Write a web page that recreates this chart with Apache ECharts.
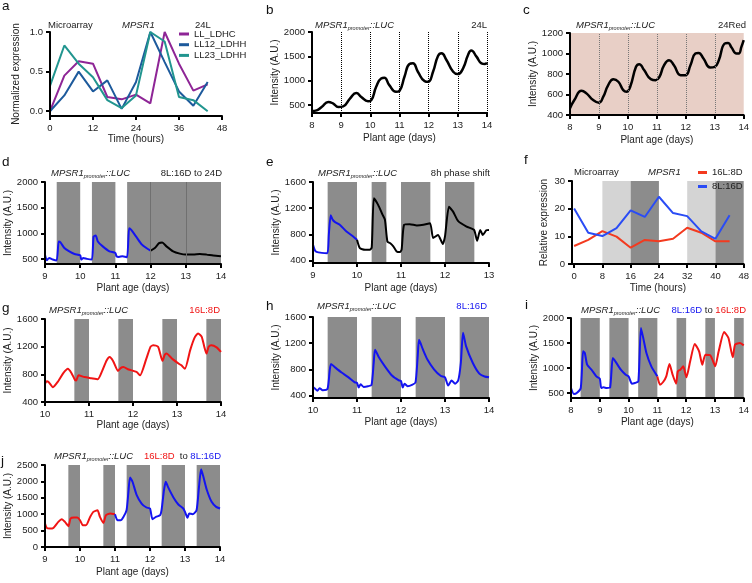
<!DOCTYPE html>
<html>
<head>
<meta charset="utf-8">
<script src="https://cdn.jsdelivr.net/npm/echarts@6/dist/echarts.min.js"></script>
<style>
html, body { margin: 0; padding: 0; background: #fff; }
#main { width: 752px; height: 583px; }
</style>
</head>
<body>
<div id="main"></div>
<script>
var FONT = '"Liberation Sans", Arial, sans-serif';
var INK = '#222';
var BLUE = '#1414f0';
var RED = '#f01414';
var GRAY = '#8c8c8c';

// a: microarray, normalized expression
var hoursA = [0, 4, 8, 12, 16, 20, 24, 28, 32, 36, 40, 44];
var llLdhc = [0.0, 0.45, 0.63, 0.6, 0.18, 0.15, 0.21, 0.1, 1.0, 0.6, 0.26, 0.34];
var ll12Ldhh = [0.0, 0.2, 0.5, 0.25, 0.39, 0.03, 0.37, 1.0, 0.62, 0.25, 0.07, 0.37];
var ll23Ldhh = [0.32, 0.83, 0.6, 0.43, 0.14, 0.04, 0.2, 1.0, 0.88, 0.18, 0.14, 0.0];

// f: microarray, relative expression
var hoursF = [0, 4, 8, 12, 16, 20, 24, 28, 32, 36, 40, 44];
var rel16L8D = [6.5, 8.7, 11.9, 9.9, 5.9, 8.7, 8.2, 9.1, 13.1, 11.3, 8.2, 8.2];
var rel8L16D = [20.1, 11.3, 10.1, 13, 19.4, 17, 24.3, 18.4, 17.3, 11.8, 9.1, 17.6];
var lightF = [[8, 16], [32, 40]];
var darkF = [[16, 24], [40, 48]];

// b: 24L
var lucB = [[8, 380], [8.16, 395], [8.33, 463], [8.56, 567], [8.73, 532], [8.9, 463], [9.07, 477],
  [9.3, 635], [9.52, 752], [9.69, 670], [9.92, 580], [10.03, 601], [10.2, 876], [10.37, 1048],
  [10.48, 1062], [10.65, 911], [10.88, 773], [11.0, 794], [11.17, 1083], [11.34, 1344], [11.46, 1358],
  [11.63, 1186], [11.86, 993], [11.98, 979], [12.15, 1186], [12.32, 1509], [12.44, 1564], [12.61, 1427],
  [12.84, 1186], [13.0, 1138], [13.18, 1255], [13.35, 1530], [13.46, 1619], [13.64, 1495], [13.81, 1358],
  [13.93, 1344], [14.0, 1372]];

// c: 24Red
var lucC = [[8.0, 465], [8.15, 546], [8.4, 637], [8.57, 611], [8.8, 546], [9.0, 520], [9.15, 579],
  [9.32, 692], [9.5, 750], [9.67, 724], [9.84, 643], [9.95, 627], [10.08, 676], [10.28, 870], [10.39, 896],
  [10.56, 838], [10.79, 750], [10.96, 740], [11.08, 766], [11.25, 886], [11.42, 935], [11.59, 886],
  [11.82, 789], [11.99, 789], [12.16, 886], [12.33, 1000], [12.44, 1006], [12.61, 951], [12.84, 863],
  [13.0, 870], [13.14, 935], [13.34, 1096], [13.46, 1103], [13.58, 1058], [13.75, 1000], [13.83, 1000],
  [13.92, 1064], [14.0, 1130]];

// d: 8L:16D to 24D
var lucD8L = [[9.0, 583], [9.05, 474], [9.12, 519], [9.22, 487], [9.33, 468], [9.39, 840], [9.44, 820],
  [9.55, 711], [9.69, 647], [9.84, 596], [10.0, 570], [10.03, 487], [10.09, 519], [10.19, 500], [10.33, 487],
  [10.38, 936], [10.44, 955], [10.5, 840], [10.64, 744], [10.83, 647], [11.0, 615], [11.03, 551],
  [11.1, 538], [11.2, 551], [11.33, 532], [11.39, 1096], [11.45, 1064], [11.6, 923], [11.74, 788],
  [11.88, 711], [12.0, 660]];
var lucD24D = [[12.0, 660], [12.12, 711], [12.24, 808], [12.33, 820], [12.45, 744], [12.64, 647],
  [12.83, 602], [13.0, 583], [13.21, 583], [13.4, 596], [13.59, 583], [13.78, 564], [14.0, 551]];
var darkD = [[9.333, 10], [10.333, 11], [11.333, 14]];
var dayLinesD = [12, 13];

// e: 8h phase shift
var lucEBefore = [[9.0, 640], [9.04, 560], [9.08, 530], [9.2, 515], [9.327, 510], [9.36, 800], [9.403, 1090],
  [9.45, 1020], [9.494, 990], [9.608, 945], [9.76, 843], [9.913, 767], [10.0, 716]];
var lucEAfter = [[10.0, 716], [10.065, 588], [10.18, 563], [10.29, 563], [10.335, 600], [10.384, 1350],
  [10.48, 1250], [10.58, 1100], [10.635, 1022], [10.69, 690], [10.75, 665], [10.825, 614], [10.9, 537],
  [10.98, 527], [11.015, 570], [11.07, 945], [11.2, 955], [11.36, 935], [11.51, 945], [11.66, 970],
  [11.73, 743], [11.84, 790], [11.95, 651], [12.0, 767], [12.09, 1220], [12.18, 1150], [12.3, 1000],
  [12.49, 917], [12.66, 866], [12.73, 700], [12.8, 866], [12.86, 790], [12.94, 860], [13.0, 866]];
var darkE = [[9.333, 10], [10.333, 10.667], [11, 11.667], [12, 12.667]];

// g: 16L:8D
var lucG = [[10.0, 665], [10.04, 700], [10.08, 690], [10.18, 615], [10.3, 700], [10.42, 820], [10.52, 880],
  [10.6, 820], [10.68, 720], [10.71, 710], [10.76, 785], [10.9, 760], [11.05, 745], [11.2, 730],
  [11.3, 850], [11.4, 1000], [11.47, 1050], [11.55, 990], [11.66, 850], [11.72, 890], [11.78, 905],
  [11.9, 870], [12.08, 835], [12.16, 785], [12.3, 1020], [12.4, 1200], [12.46, 1220], [12.57, 1200],
  [12.67, 995], [12.72, 1080], [12.76, 1100], [12.9, 1020], [13.05, 950], [13.1, 930], [13.18, 880],
  [13.3, 1150], [13.4, 1330], [13.48, 1390], [13.56, 1345], [13.62, 1200], [13.67, 1100], [13.72, 1200],
  [13.78, 1220], [13.9, 1190], [14.0, 1125]];
var darkG = [[10.667, 11], [11.667, 12], [12.667, 13], [13.667, 14]];

// h: 8L:16D
var lucH = [[10.0, 530], [10.05, 500], [10.1, 470], [10.15, 510], [10.22, 480], [10.33, 500], [10.38, 780],
  [10.41, 880], [10.5, 830], [10.65, 750], [10.8, 680], [10.95, 600], [11.0, 590], [11.04, 520],
  [11.08, 570], [11.15, 530], [11.25, 540], [11.33, 560], [11.38, 900], [11.41, 1100], [11.5, 980],
  [11.65, 830], [11.8, 700], [11.95, 630], [12.0, 620], [12.04, 520], [12.08, 580], [12.15, 540],
  [12.25, 560], [12.33, 600], [12.38, 1000], [12.41, 1250], [12.5, 1100], [12.6, 950], [12.75, 800],
  [12.9, 700], [13.0, 677], [13.07, 551], [13.15, 627], [13.23, 580], [13.3, 627], [13.36, 900],
  [13.41, 1360], [13.48, 1150], [13.63, 900], [13.78, 733], [13.9, 690], [14.0, 677]];
var darkH = [[10.333, 11], [11.333, 12], [12.333, 13], [13.333, 14]];

// i: 8L:16D to 16L:8D
var lucI8L = [[8.0, 600], [8.1, 480], [8.2, 500], [8.34, 600], [8.42, 1333], [8.48, 1300], [8.56, 1067],
  [8.71, 967], [8.88, 833], [9.0, 787], [9.05, 600], [9.13, 613], [9.24, 600], [9.36, 613], [9.45, 1200],
  [9.54, 1133], [9.73, 967], [9.9, 867], [10.0, 833], [10.07, 733], [10.11, 687], [10.22, 700],
  [10.34, 733], [10.43, 1800], [10.51, 1600], [10.62, 1300], [10.79, 1033], [11.0, 833]];
var lucI16L = [[11.0, 833], [11.09, 667], [11.2, 720], [11.31, 833], [11.42, 1080], [11.53, 867],
  [11.65, 687], [11.71, 933], [11.8, 967], [11.9, 1033], [12.01, 813], [12.14, 1133], [12.3, 1480],
  [12.45, 1333], [12.56, 1067], [12.67, 1267], [12.84, 1253], [12.96, 1100], [13.01, 1033], [13.13, 1333],
  [13.32, 1720], [13.47, 1600], [13.62, 1213], [13.7, 1467], [13.87, 1500], [14.0, 1453]];
var darkI = [[8.333, 9], [9.333, 10], [10.333, 11], [11.667, 12], [12.667, 13], [13.667, 14]];

// j: 16L:8D to 8L:16D
var lucJ16L = [[9.0, 714], [9.05, 582], [9.14, 561], [9.24, 582], [9.38, 765], [9.48, 847], [9.57, 765],
  [9.67, 633], [9.73, 867], [9.83, 898], [9.92, 898], [10.0, 816], [10.08, 663], [10.17, 663],
  [10.29, 918], [10.38, 1071], [10.5, 1122], [10.57, 918], [10.67, 735], [10.74, 969], [10.86, 1020],
  [11.0, 1000]];
var lucJ8L = [[11.0, 1000], [11.07, 816], [11.16, 816], [11.24, 918], [11.33, 1122], [11.38, 1632],
  [11.43, 2122], [11.5, 1990], [11.62, 1580], [11.76, 1326], [11.9, 1204], [12.0, 1173], [12.07, 847],
  [12.17, 918], [12.29, 969], [12.33, 1122], [12.4, 1734], [12.45, 1990], [12.52, 1816], [12.67, 1510],
  [12.81, 1296], [12.95, 1173], [13.0, 1071], [13.07, 888], [13.12, 1020], [13.22, 1000], [13.33, 1122],
  [13.4, 1836], [13.46, 2367], [13.52, 2163], [13.62, 1755], [13.76, 1377], [13.89, 1224], [14.0, 1173]];
var darkJ = [[9.667, 10], [10.667, 11], [11.333, 12], [12.333, 13], [13.333, 14]];

// tick values
var ticksNorm = [0, 0.5, 1];
var ticks2000 = [500, 1000, 1500, 2000];
var ticks1600 = [400, 800, 1200, 1600];
var ticksHours = [0, 8, 16, 24, 32, 40, 48];

var grids = [], xAxes = [], yAxes = [], series = [], titles = [];

function panel(box, x, y) {
    var i = grids.length;
    grids.push({ left: box[0], top: box[1], width: box[2], height: box[3] });
    xAxes.push(axis(i, x));
    yAxes.push(axis(i, y));
    return i;
}

function plain(v) {
    return String(v);
}

function axis(i, o) {
    return {
        type: 'value',
        gridIndex: i,
        min: o.min,
        max: o.max,
        interval: o.interval,
        name: o.name,
        nameLocation: 'middle',
        nameGap: o.gap,
        nameTextStyle: { fontSize: 10, color: INK, fontFamily: FONT },
        axisLine: { show: true, onZero: false, lineStyle: { color: '#000', width: 2 } },
        axisTick: { show: true, length: 4, customValues: o.ticks, lineStyle: { color: '#000', width: 2 } },
        axisLabel: {
            fontSize: 9.5, color: INK, fontFamily: FONT, margin: 7,
            customValues: o.ticks, formatter: o.fmt || plain, hideOverlap: false
        },
        splitLine: { show: false },
        z: 5
    };
}

function line(i, data, color, width, smooth, name) {
    series.push({
        type: 'line', name: name, xAxisIndex: i, yAxisIndex: i, data: data,
        showSymbol: false, symbol: 'none', smooth: smooth || false,
        lineStyle: { color: color, width: width || 2 }, itemStyle: { color: color },
        silent: true, z: 3
    });
}

// shaded light / dark periods
function shade(i, spans, color) {
    series.push({
        type: 'line', xAxisIndex: i, yAxisIndex: i, data: [], silent: true, z: 1,
        markArea: {
            silent: true,
            itemStyle: { color: color, opacity: 1 },
            label: { show: false },
            data: spans.map(function (s) { return [{ xAxis: s[0] }, { xAxis: s[1] }]; })
        }
    });
}

function vlines(i, xs, color, type) {
    series.push({
        type: 'line', xAxisIndex: i, yAxisIndex: i, data: [], silent: true, z: 2,
        markLine: {
            silent: true, symbol: 'none', animation: false,
            label: { show: false },
            lineStyle: { color: color, width: 1, type: type },
            data: xs.map(function (x) { return { xAxis: x }; })
        }
    });
}

var RICH = {
    i: { fontStyle: 'italic', fontSize: 9.5, lineHeight: 12, fontFamily: FONT, color: INK },
    s: { fontStyle: 'italic', fontSize: 5.5, lineHeight: 6, verticalAlign: 'bottom', fontFamily: FONT, color: INK },
    b: { fontSize: 9.5, lineHeight: 12, fontFamily: FONT, color: BLUE },
    r: { fontSize: 9.5, lineHeight: 12, fontFamily: FONT, color: RED },
    k: { fontSize: 9.5, lineHeight: 12, fontFamily: FONT, color: INK }
};
var LUC = '{i|MPSR1}{s|promoter}{i|::LUC}';

function label(text, pos, cy, size) {
    var t = {
        text: text, top: cy - 6, padding: 0,
        textStyle: { fontSize: size || 9.5, lineHeight: 12, fontWeight: 'normal', fontFamily: FONT, color: INK, rich: RICH }
    };
    if (pos < 0) t.right = -pos; else t.left = pos;
    titles.push(t);
}

function letter(ch, x, y) {
    titles.push({ text: ch, left: x, top: y, padding: 0,
        textStyle: { fontSize: 13.5, fontWeight: 'normal', fontFamily: FONT, color: '#111' } });
}

function pairs(xs, ys) {
    return xs.map(function (x, k) { return [x, ys[k]]; });
}

// a
var pa = panel([50, 32, 172, 84],
    { min: 0, max: 48, interval: 12, name: 'Time (hours)', gap: 18 },
    { min: -0.06, max: 1, ticks: ticksNorm, name: 'Normalized expression', gap: 29,
      fmt: function (v) { return v.toFixed(1); } });
line(pa, pairs(hoursA, llLdhc), '#8e2596', 2, false, 'LL_LDHC');
line(pa, pairs(hoursA, ll12Ldhh), '#1d5a9c', 2, false, 'LL12_LDHH');
line(pa, pairs(hoursA, ll23Ldhh), '#21958f', 2, false, 'LL23_LDHH');

// b
var pb = panel([312, 32, 175, 81],
    { min: 8, max: 14, interval: 1, name: 'Plant age (days)', gap: 20 },
    { min: 340, max: 2000, ticks: ticks2000, name: 'Intensity (A.U.)', gap: 31 });
vlines(pb, [9, 10, 11, 12, 13, 14], '#000', 'dotted');
line(pb, lucB, '#000', 2.5, 0.5);

// c
var pc = panel([570, 33, 176, 82],
    { min: 8, max: 14, interval: 1, name: 'Plant age (days)', gap: 20 },
    { min: 400, max: 1200, interval: 200, name: 'Intensity (A.U.)', gap: 27 });
shade(pc, [[8, 14]], '#e8cfc6');
vlines(pc, [9, 10, 11, 12, 13], '#777', 'dotted');
line(pc, lucC, '#000', 2.5, 0.5);

// d
var pd = panel([45, 182, 176, 82],
    { min: 9, max: 14, interval: 1, name: 'Plant age (days)', gap: 19 },
    { min: 400, max: 2000, ticks: ticks2000, name: 'Intensity (A.U.)', gap: 26 });
shade(pd, darkD, GRAY);
vlines(pd, dayLinesD, '#707070', 'solid');
line(pd, lucD8L, BLUE, 2, 0.2);
line(pd, lucD24D, '#000', 2, 0.2);

// e
var pe = panel([313, 182, 176, 81],
    { min: 9, max: 13, interval: 1, name: 'Plant age (days)', gap: 20 },
    { min: 360, max: 1600, ticks: ticks1600, name: 'Intensity (A.U.)', gap: 32 });
shade(pe, darkE, GRAY);
line(pe, lucEBefore, BLUE, 2, 0.2);
line(pe, lucEAfter, '#000', 2, 0.2);

// f
var pf = panel([572, 181, 175, 83],
    { min: -0.6, max: 48, ticks: ticksHours, name: 'Time (hours)', gap: 19 },
    { min: 0, max: 30, interval: 10, name: 'Relative expression', gap: 23 });
shade(pf, lightF, '#d4d4d4');
shade(pf, darkF, GRAY);
line(pf, pairs(hoursF, rel16L8D), '#f33a1f', 2, false, '16L:8D');
line(pf, pairs(hoursF, rel8L16D), '#2a4cf5', 2, false, '8L:16D');

// g
var pg = panel([45, 319, 176, 83],
    { min: 10, max: 14, interval: 1, name: 'Plant age (days)', gap: 17 },
    { min: 400, max: 1600, interval: 400, name: 'Intensity (A.U.)', gap: 26 });
shade(pg, darkG, GRAY);
line(pg, lucG, RED, 2, 0.2);

// h
var ph = panel([313, 317, 176, 81],
    { min: 10, max: 14, interval: 1, name: 'Plant age (days)', gap: 19 },
    { min: 360, max: 1600, ticks: ticks1600, name: 'Intensity (A.U.)', gap: 30 });
shade(ph, darkH, GRAY);
line(ph, lucH, BLUE, 2, 0.2);

// i
var pi = panel([571, 318, 175, 80],
    { min: 8, max: 14, interval: 1, name: 'Plant age (days)', gap: 19 },
    { min: 400, max: 2000, ticks: ticks2000, name: 'Intensity (A.U.)', gap: 29 });
shade(pi, darkI, GRAY);
line(pi, lucI8L, BLUE, 2, 0.2);
line(pi, lucI16L, RED, 2, 0.2);

// j
var pj = panel([45, 465, 175, 82],
    { min: 9, max: 14, interval: 1, name: 'Plant age (days)', gap: 20 },
    { min: 0, max: 2500, interval: 500, name: 'Intensity (A.U.)', gap: 29 });
shade(pj, darkJ, GRAY);
line(pj, lucJ16L, RED, 2, 0.2);
line(pj, lucJ8L, BLUE, 2, 0.2);

// panel letters
letter('a', 2, -1);
letter('b', 266, 3);
letter('c', 523, 3);
letter('d', 2, 155);
letter('e', 266, 155);
letter('f', 524, 153);
letter('g', 2, 301);
letter('h', 266, 299);
letter('i', 525, 298);
letter('j', 1, 454);

// panel texts
label('Microarray', 48, 25);
label('{i|MPSR1}', 122, 25);
label('24L', 195, 25);
label(LUC, 315, 25);
label('24L', -265, 25);
label(LUC, 576, 25);
label('24Red', -6, 25);
label(LUC, 51, 173);
label('8L:16D to 24D', -530, 173);
label(LUC, 318, 173);
label('8h phase shift', -262, 173);
label('Microarray', 574, 172);
label('{i|MPSR1}', 648, 172);
label(LUC, 49, 310);
label('{r|16L:8D}', -532, 310);
label(LUC, 317, 306);
label('{b|8L:16D}', -265, 306);
label(LUC, 581, 310);
label('{b|8L:16D} {k|to} {r|16L:8D}', -6, 310);
label(LUC, 54, 456);
label('{r|16L:8D}  {k|to} {b|8L:16D}', -531, 456);

var myChart = echarts.init(document.getElementById('main'));
var option = {
    animation: false,
    backgroundColor: '#fff',
    title: titles,
    legend: [{
        data: ['LL_LDHC', 'LL12_LDHH', 'LL23_LDHH'],
        orient: 'vertical', left: 179, top: 29, padding: 0,
        itemWidth: 10, itemHeight: 3, itemGap: 0.7, icon: 'rect', selectedMode: false,
        textStyle: { fontSize: 9.5, lineHeight: 10, color: INK, fontFamily: FONT }
    }, {
        data: ['16L:8D', '8L:16D'],
        orient: 'vertical', left: 698, top: 167, padding: 0,
        itemWidth: 9, itemHeight: 3, itemGap: 3, icon: 'rect', selectedMode: false,
        textStyle: { fontSize: 9.5, lineHeight: 11, color: INK, fontFamily: FONT }
    }],
    grid: grids,
    xAxis: xAxes,
    yAxis: yAxes,
    series: series
};
myChart.setOption(option);
</script>
</body>
</html>
